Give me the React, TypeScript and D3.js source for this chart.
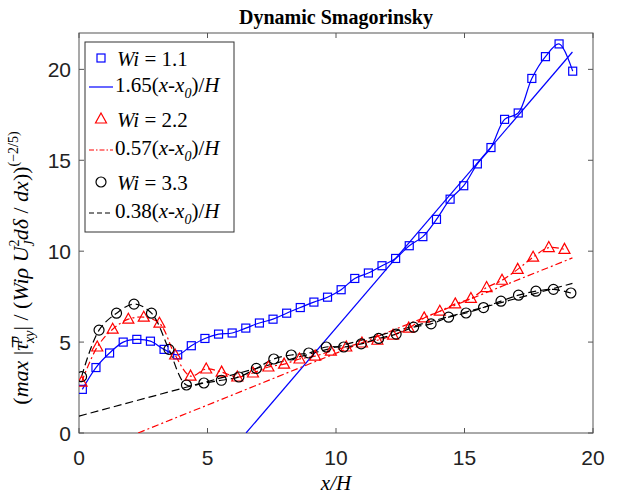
import * as d3 from "d3";

// Wi = 1.1 (blue squares)
const blueX = [0.13, 0.66, 1.19, 1.72, 2.25, 2.78, 3.31, 3.84, 4.37, 4.9, 5.43, 5.96, 6.49, 7.02, 7.55, 8.08, 8.61, 9.14, 9.67, 10.2, 10.73, 11.26, 11.79, 12.32, 12.85, 13.38, 13.91, 14.44, 14.97, 15.5, 16.03, 16.56, 17.09, 17.62, 18.15, 18.68, 19.21];
const blueY = [2.4, 3.6, 4.4, 5.0, 5.15, 5.05, 4.6, 4.3, 4.8, 5.2, 5.44, 5.5, 5.77, 6.05, 6.26, 6.59, 6.9, 7.2, 7.47, 7.88, 8.5, 8.8, 9.2, 9.6, 10.3, 10.8, 11.75, 12.86, 13.6, 14.8, 15.7, 17.25, 17.6, 19.5, 20.7, 21.4, 19.9];

// Wi = 2.2 (red triangles)
const redX = [0.1, 0.71, 1.31, 1.92, 2.52, 3.13, 3.74, 4.34, 4.95, 5.55, 6.16, 6.77, 7.37, 7.98, 8.58, 9.19, 9.8, 10.4, 11.01, 11.61, 12.22, 12.83, 13.43, 14.04, 14.64, 15.25, 15.86, 16.46, 17.07, 17.67, 18.28, 18.89];
const redY = [2.8, 4.73, 5.71, 6.26, 6.37, 6.04, 4.29, 3.13, 3.52, 3.35, 3.08, 3.3, 3.63, 3.79, 4.07, 4.23, 4.5, 4.73, 4.95, 5.1, 5.38, 5.77, 6.33, 6.7, 7.1, 7.4, 8.0, 8.4, 9.0, 9.67, 10.2, 10.1];

// Wi = 3.3 (black circles)
const blackX = [0.1, 0.78, 1.46, 2.14, 2.82, 3.5, 4.18, 4.86, 5.54, 6.22, 6.9, 7.58, 8.26, 8.94, 9.62, 10.3, 10.98, 11.66, 12.34, 13.02, 13.7, 14.38, 15.06, 15.74, 16.42, 17.1, 17.78, 18.46, 19.14];
const blackY = [3.1, 5.66, 6.59, 7.09, 6.59, 4.6, 2.64, 2.75, 2.9, 3.08, 3.55, 4.07, 4.29, 4.4, 4.73, 4.73, 4.9, 5.2, 5.44, 5.82, 6.0, 6.37, 6.6, 6.9, 7.25, 7.58, 7.8, 7.9, 7.7];

// linear fits  y = slope * (x - x0)
const fitSlopes = [1.65, 0.57, 0.38];
const fitX0 = [6.5, 2.3, -2.45];
const fitXEnd = 19.2;

const xTicks = [0, 5, 10, 15, 20];
const yTicks = [0, 5, 10, 15, 20];

const W = 618;
const H = 494;
const left = 79, right = 593, top = 33, bottom = 433;

const serif = "'Liberation Serif', 'Times New Roman', serif";
const sans = "'Liberation Sans', Arial, sans-serif";

function Marker({ shape, cx, cy, color }: { shape: string; cx: number; cy: number; color: string }) {
  if (shape === "square")
    return <rect x={cx - 4} y={cy - 4} width={8} height={8} fill="none" stroke={color} strokeWidth={1.2} />;
  if (shape === "triangle")
    return <path d={`M${cx},${cy - 6}L${cx + 5.5},${cy + 4}L${cx - 5.5},${cy + 4}Z`} fill="none" stroke={color} strokeWidth={1.2} />;
  return <circle cx={cx} cy={cy} r={5} fill="none" stroke={color} strokeWidth={1.2} />;
}

export default function App() {
  const x = d3.scaleLinear().domain([0, 20]).range([left, right]);
  const y = d3.scaleLinear().domain([0, 22]).range([bottom, top]);

  const series = [
    { xs: blueX, ys: blueY, color: "#0000ff", shape: "square", dash: undefined as string | undefined },
    { xs: redX, ys: redY, color: "#ff0000", shape: "triangle", dash: "7,3,2,3" },
    { xs: blackX, ys: blackY, color: "#000000", shape: "circle", dash: "8,4" },
  ];

  const line = d3
    .line<[number, number]>()
    .x((d) => x(d[0]))
    .y((d) => y(d[1]));

  const fits = fitSlopes.map((s, i) => {
    const x0 = Math.max(0, fitX0[i]);
    return [
      [x0, s * (x0 - fitX0[i])],
      [fitXEnd, s * (fitXEnd - fitX0[i])],
    ] as [number, number][];
  });

  const legendRows = [
    { type: "marker", s: 0, label: "1.1", y: 58 },
    { type: "fit", s: 0, label: "1.65", y: 87 },
    { type: "marker", s: 1, label: "2.2", y: 119 },
    { type: "fit", s: 1, label: "0.57", y: 150 },
    { type: "marker", s: 2, label: "3.3", y: 182 },
    { type: "fit", s: 2, label: "0.38", y: 213 },
  ];

  return (
    <svg width={W} height={H} style={{ position: "absolute", left: 0, top: 0, background: "#fff" }}>
      <defs>
        <clipPath id="plot">
          <rect x={left} y={top} width={right - left} height={bottom - top} />
        </clipPath>
      </defs>
      <rect width={W} height={H} fill="#fff" />

      {/* title */}
      <text x={(left + right) / 2} y={24} textAnchor="middle" fontFamily={serif} fontWeight="bold" fontSize={20}>
        Dynamic Smagorinsky
      </text>

      {/* frame and ticks */}
      <rect x={left} y={top} width={right - left} height={bottom - top} fill="none" stroke="#555" strokeWidth={1} />
      {xTicks.map((t) => (
        <g key={"xt" + t}>
          <line x1={x(t)} x2={x(t)} y1={bottom} y2={bottom - 5} stroke="#555" />
          <line x1={x(t)} x2={x(t)} y1={top} y2={top + 5} stroke="#555" />
          <text x={x(t)} y={465} textAnchor="middle" fontFamily={sans} fontSize={21} fill="#222">
            {t}
          </text>
        </g>
      ))}
      {yTicks.map((t) => (
        <g key={"yt" + t}>
          <line x1={left} x2={left + 5} y1={y(t)} y2={y(t)} stroke="#555" />
          <line x1={right} x2={right - 5} y1={y(t)} y2={y(t)} stroke="#555" />
          <text x={71} y={y(t) + 7.5} textAnchor="end" fontFamily={sans} fontSize={21} fill="#222">
            {t}
          </text>
        </g>
      ))}

      {/* axis labels */}
      <text x={(left + right) / 2} y={490} textAnchor="middle" fontFamily={serif} fontStyle="italic" fontSize={21}>
        x/H
      </text>
      <text transform={`translate(28,268) rotate(-90)`} textAnchor="middle" fontFamily={serif} fontSize={22}>
        (<tspan fontStyle="italic">max</tspan> |<tspan fontStyle="italic">τ̅</tspan>
        <tspan fontSize={14} fontStyle="italic" dy={-9}>p</tspan>
        <tspan fontSize={14} fontStyle="italic" dx={-7} dy={15}>xy</tspan>
        <tspan dy={-6}>| / (</tspan>
        <tspan fontStyle="italic">Wiρ U</tspan>
        <tspan fontSize={14} dy={-9}>2</tspan>
        <tspan fontSize={14} fontStyle="italic" dx={-7} dy={15}>J</tspan>
        <tspan dy={-6} fontStyle="italic">dδ</tspan>
        <tspan> / </tspan>
        <tspan fontStyle="italic">dx</tspan>))
        <tspan fontSize={14} dy={-10}>(−2/5)</tspan>
      </text>

      {/* data */}
      <g clipPath="url(#plot)">
        {fits.map((f, i) => (
          <path key={"fit" + i} d={line.curve(d3.curveLinear)(f) || ""} fill="none" stroke={series[i].color} strokeWidth={1.2} strokeDasharray={series[i].dash} />
        ))}
        {series.map((s, i) => (
          <path
            key={"ln" + i}
            d={line.curve(d3.curveCatmullRom.alpha(0.5))(s.xs.map((v, j) => [v, s.ys[j]] as [number, number])) || ""}
            fill="none"
            stroke={s.color}
            strokeWidth={1.2}
            strokeDasharray={s.dash}
          />
        ))}
        {series.map((s, i) =>
          s.xs.map((v, j) => <Marker key={`m${i}-${j}`} shape={s.shape} cx={x(v)} cy={y(s.ys[j])} color={s.color} />)
        )}
      </g>

      {/* legend */}
      <rect x={85} y={42} width={149} height={190} fill="#fff" stroke="#333" strokeWidth={1} />
      {legendRows.map((r, i) => {
        const s = series[r.s];
        return (
          <g key={"lg" + i}>
            {r.type === "marker" ? (
              <Marker shape={s.shape} cx={101} cy={r.y} color={s.color} />
            ) : (
              <line x1={89} x2={113} y1={r.y} y2={r.y} stroke={s.color} strokeWidth={1.2} strokeDasharray={s.dash ? (r.s === 1 ? "5,2,1.5,2" : "5,3") : undefined} />
            )}
            {r.type === "marker" ? (
              <text x={117} y={r.y + 8} fontFamily={serif} fontSize={21}>
                <tspan fontStyle="italic">Wi</tspan> = {r.label}
              </text>
            ) : (
              <text x={115} y={r.y + 5} fontFamily={serif} fontSize={21}>
                {r.label}(<tspan fontStyle="italic">x</tspan>-<tspan fontStyle="italic">x</tspan>
                <tspan fontStyle="italic" fontSize={14} dy={6}>0</tspan>
                <tspan dy={-6}>)/</tspan>
                <tspan fontStyle="italic">H</tspan>
              </text>
            )}
          </g>
        );
      })}
    </svg>
  );
}
